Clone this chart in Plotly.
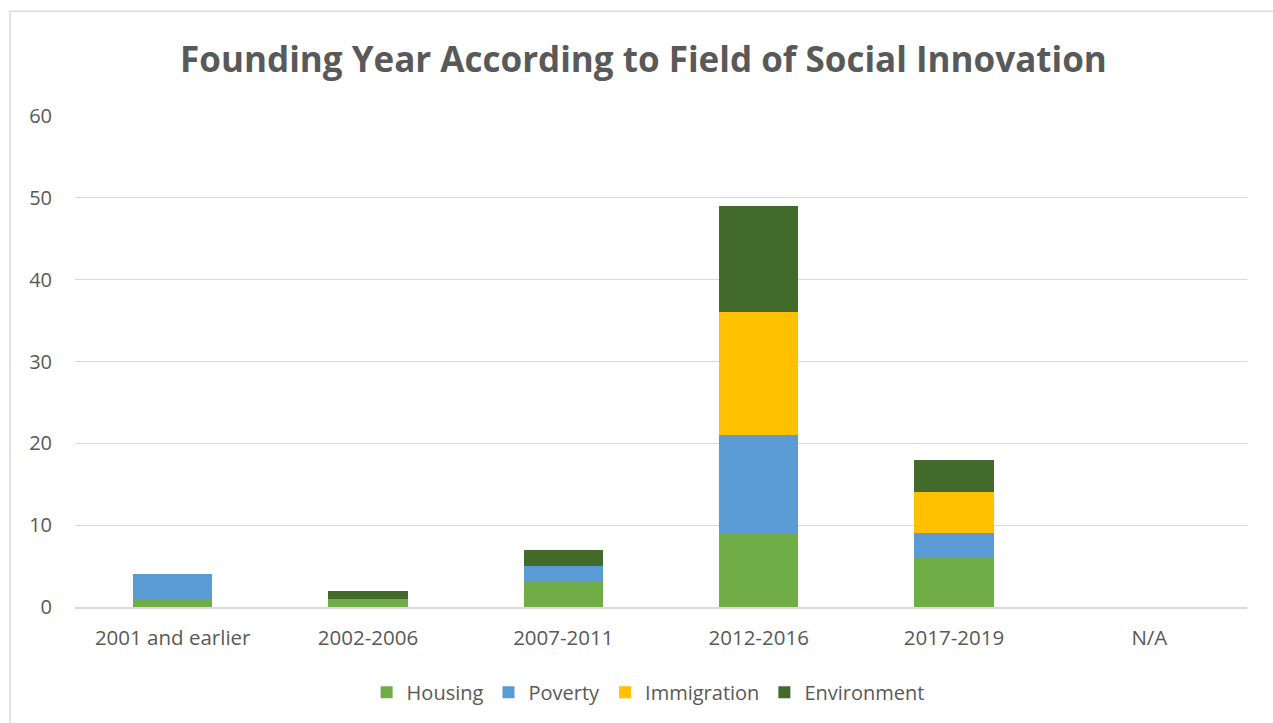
import plotly.graph_objects as go

# Founding-year bins and number of initiatives per field
categories = ["2001 and earlier", "2002-2006", "2007-2011", "2012-2016", "2017-2019", "N/A"]
housing = [1, 1, 3, 9, 6, 0]
poverty = [3, 0, 2, 12, 3, 0]
immigration = [0, 0, 0, 15, 5, 0]
environment = [0, 1, 2, 13, 4, 0]

series = [
    ("Housing", housing, "#70AD47"),
    ("Poverty", poverty, "#5B9BD5"),
    ("Immigration", immigration, "#FFC000"),
    ("Environment", environment, "#426A2A"),
]

FONT = "Open Sans"
TEXT = "#595959"
GRID = "#D9D9D9"

fig = go.Figure()
for name, values, color in series:
    fig.add_trace(go.Bar(
        name=name,
        x=categories,
        y=values,
        marker=dict(color=color, line=dict(width=0)),
        hoverinfo="x+y+name",
    ))

fig.update_layout(
    barmode="stack",
    bargap=0.595,
    width=1273,
    height=723,
    margin=dict(l=75, r=26, t=116, b=115),
    paper_bgcolor="white",
    plot_bgcolor="white",
    font=dict(family=FONT, color=TEXT, size=20),
    title=dict(
        text="<b>Founding Year According to Field of Social Innovation</b>",
        x=643.5 / 1273, xanchor="center", xref="container",
        y=1 - 60 / 723, yanchor="middle",
        font=dict(family=FONT, size=35, color=TEXT),
    ),
    legend=dict(
        orientation="h",
        x=0.489, xanchor="center",
        y=-0.171, yanchor="middle",
        font=dict(family=FONT, size=20, color=TEXT),
        itemwidth=30,
        traceorder="normal",
    ),
    xaxis=dict(
        showgrid=False,
        showline=True,
        linecolor=GRID,
        linewidth=1.5,
        ticks="",
        ticklabelstandoff=12,
        tickfont=dict(size=20.5, color=TEXT),
    ),
    yaxis=dict(
        range=[0, 60],
        dtick=10,
        showgrid=True,
        gridcolor=GRID,
        gridwidth=1,
        zeroline=False,
        showline=False,
        ticks="",
        ticklabelstandoff=22,
        tickfont=dict(size=20, color=TEXT),
    ),
    shapes=[dict(
        type="rect", xref="paper", yref="paper",
        x0=-65 / 1172, x1=1.1,
        y0=(608 - 11) / 492, y1=-0.4,
        line=dict(color=GRID, width=1.5),
        fillcolor="rgba(0,0,0,0)",
        layer="below",
    )],
)

fig.write_html("out.html")
